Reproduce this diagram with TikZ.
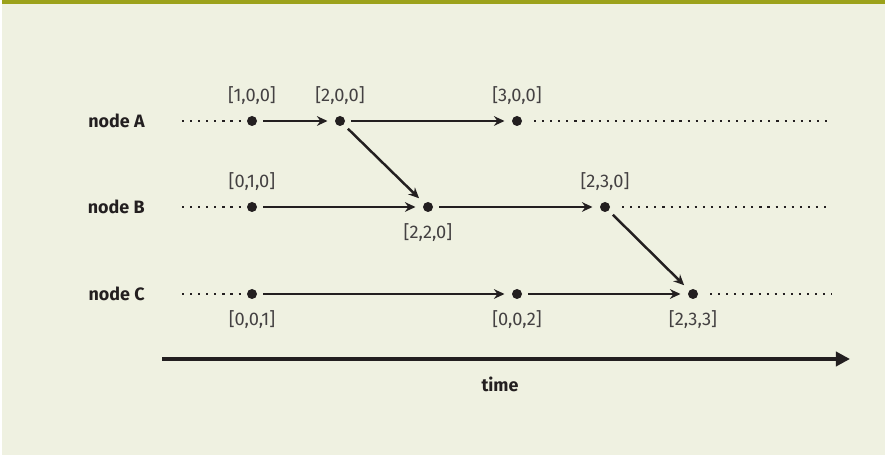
\documentclass[tikz,border=0pt]{standalone}
\usepackage{fontspec}
\setmainfont{Fira Sans}
\usetikzlibrary{arrows.meta}
\definecolor{paper}{HTML}{EFF1E1}
\definecolor{olive}{HTML}{9CA21A}
\definecolor{ink}{HTML}{231F20}

\begin{document}
\begin{tikzpicture}[x=0.02cm, y=-0.02cm, semithick, font=\fontsize{10.4}{12}\selectfont]
		\tikzset{
		    event/.style= {circle, fill=ink, inner sep=0pt, minimum size=0.2cm, outer sep=0.12cm},
		    stamp/.style= {text=ink!85, inner sep=1pt},
		    proc/.style= {font=\fontsize{10.2}{12}\selectfont\bfseries, text=ink, anchor=east},
		    msg/.style= {->, >={Stealth[length=6pt, width=5.5pt]}, draw=ink, line width=1.4pt, shorten >=0.03cm},
		    idle/.style= {draw=ink, line width=1.2pt, dash pattern=on 1.2pt off 3.4pt},
		    clock/.style= {-{Triangle[length=8pt, width=8pt]}, draw=ink, line width=2.8pt},
		}
		
		\useasboundingbox (0,0) rectangle (885,455);
		\fill[white] (0,0) rectangle (885,455);
		\fill[paper] (2,0) rectangle (885,455);
		\fill[olive] (2,0) rectangle (885,4.5);
		
		% processes
		\node[proc] (pA) at (151, 121) {node A};
		\node[proc] (pB) at (151, 207) {node B};
		\node[proc] (pC) at (151, 294) {node C};
		
		% events with their vector clocks
		\node[event, label={[stamp, label distance=2pt]above:{[1,0,0]}}] (a1) at (252, 121) {};
		\node[event, label={[stamp, label distance=2pt]above:{[2,0,0]}}] (a2) at (340, 121) {};
		\node[event, label={[stamp, label distance=2pt]above:{[3,0,0]}}] (a3) at (517, 121) {};
		
		\node[event, label={[stamp, label distance=2pt]above:{[0,1,0]}}] (b1) at (252, 207) {};
		\node[event, label={[stamp, label distance=2pt]below:{[2,2,0]}}] (b2) at (428, 207) {};
		\node[event, label={[stamp, label distance=2pt]above:{[2,3,0]}}] (b3) at (605, 207) {};
		
		\node[event, label={[stamp, label distance=2pt]below:{[0,0,1]}}] (c1) at (252, 294) {};
		\node[event, label={[stamp, label distance=2pt]below:{[0,0,2]}}] (c2) at (517, 294) {};
		\node[event, label={[stamp, label distance=2pt]below:{[2,3,3]}}] (c3) at (693, 294) {};
		
		% ends of the dotted timelines
		\coordinate (sA) at (182, 121);
		\coordinate (sB) at (182, 207);
		\coordinate (sC) at (182, 294);
		\coordinate (eA) at (832, 121);
		\coordinate (eB) at (832, 207);
		\coordinate (eC) at (832, 294);
		
		\draw[idle] (sA) -- (a1.west) (a3.east) ++(6,0) -- (eA);
		\draw[idle] (sB) -- (b1.west) (b3.east) ++(6,0) -- (eB);
		\draw[idle] (sC) -- (c1.west) (c3.east) ++(6,0) -- (eC);
		
		\draw
		(a1) edge[msg] (a2)
		(a2) edge[msg] (a3)
		(a2) edge[msg] (b2)
		
		(b1) edge[msg] (b2)
		(b2) edge[msg] (b3)
		(b3) edge[msg] (c3)
		
		(c1) edge[msg] (c2)
		(c2) edge[msg] (c3);
		
		% time axis
		\coordinate (t0) at (162, 359);
		\coordinate (t1) at (850, 359);
		\draw[clock] (t0) -- (t1);
		\node[proc, anchor=center] (time) at (500, 384) {time};
	\end{tikzpicture}
\end{document}
